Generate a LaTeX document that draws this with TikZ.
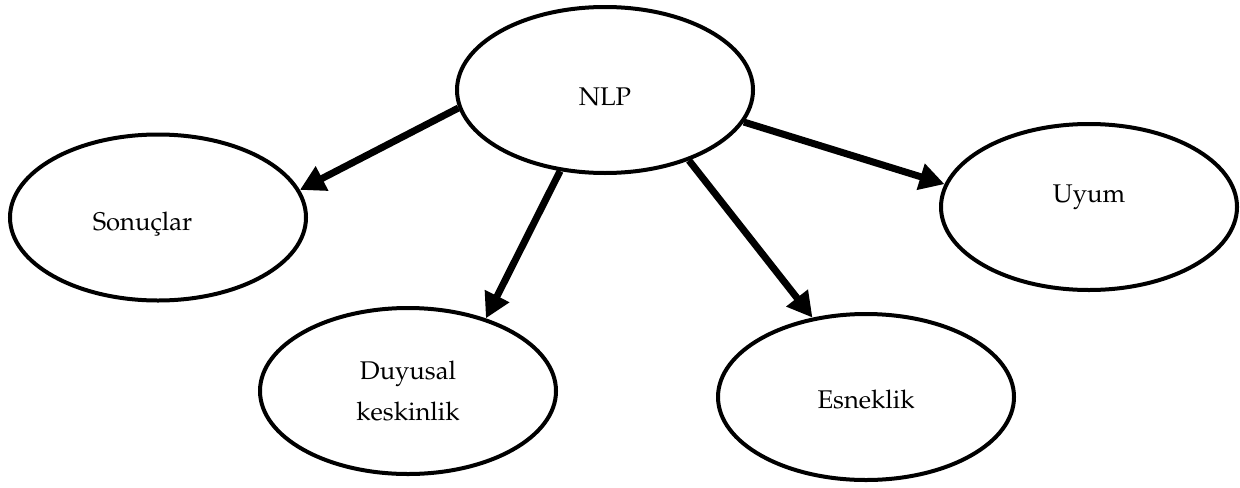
\documentclass[tikz,border=0pt]{standalone}
\usepackage[T1]{fontenc}
\usepackage{mathpazo}
\usetikzlibrary{shapes.geometric,arrows.meta}

% shift text up or down inside its node
\newcommand{\vmove}[2]{\raisebox{#1}[\height][\depth]{#2}}

\tikzset{
  bubble/.style={ellipse, draw, line width=2pt, inner sep=0pt, align=center,
    minimum width=148pt, minimum height=83pt, font=\fontsize{12.8}{20.5}\selectfont},
  link/.style={line width=3.5pt, -{Triangle[length=12.5pt,width=13pt]}}
}

\begin{document}
\begin{tikzpicture}[x=0.5pt,y=-0.5pt]

% Page frame
\useasboundingbox (0,0) rectangle (1240,487);

% Ellipses
\node[bubble] (nlp) at (605,90) {\vmove{-3.5pt}{NLP}};
\node[bubble] (sonuc) at (158,217.5) {\vmove{-3.5pt}{Sonu\c{c}lar}\hspace{15.5pt}};
\node[bubble] (duyu) at (408,391) {Duyusal\\keskinlik};
\node[bubble] (esnek) at (866,397) {\vmove{-1.5pt}{Esneklik}};
\node[bubble] (uyum) at (1089,207) {\vmove{5pt}{Uyum}};

% Arrows from NLP
\draw[link] (nlp.187.9) -- (sonuc.11.7);
\draw[link] (nlp.241.7) -- (duyu.43.4);
\draw[link] (nlp.320) -- (esnek.124.6);
\draw[link] (nlp.347.3) -- (uyum.171.8);

\end{tikzpicture}
\end{document}
